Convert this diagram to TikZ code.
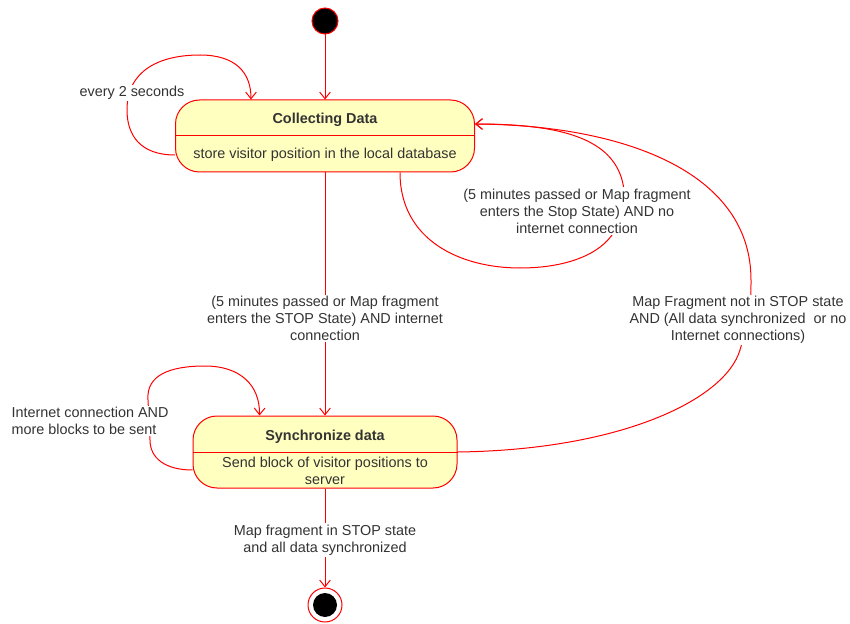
\documentclass[tikz,border=0pt]{standalone}
\usepackage{fontspec}
\setmainfont{Liberation Sans}
\usetikzlibrary{arrows.meta,calc}
\definecolor{edge}{HTML}{FF0000}
\definecolor{statefill}{HTML}{FFFFC0}
\definecolor{ink}{HTML}{333333}
\begin{document}
\begin{tikzpicture}[x=0.75pt,y=-0.75pt,
  font=\fontsize{10.8}{12.75}\selectfont, text=ink,
  statebox/.style={draw=edge, fill=statefill, rounded corners=18pt,
    minimum width=#1, minimum height=54pt, inner sep=0pt, line width=0.75pt},
  flow/.style={draw=edge, line width=0.75pt, -{Straight Barb[length=5pt,width=8pt]}},
  divider/.style={draw=edge, line width=0.75pt},
  guard/.style={fill=white, inner sep=1pt, align=center, text=ink},
  title/.style={font=\fontsize{10.8}{12.75}\selectfont\bfseries},
]
\useasboundingbox (0,0) rectangle (850,624);

% initial pseudo-state
\node[circle, draw=edge, fill=black, minimum size=19.5pt, inner sep=0pt, line width=0.75pt] (init) at (325,21) {};

% state: Collecting Data
\node[statebox=224.25pt] (cd) at (325,136) {};
\draw[divider] (cd.west) -- (cd.east);
\node[title] (cdt) at (325,119.5) {Collecting Data};
\node (cdb) at (325,155) {store visitor position in the local database};

% state: Synchronize data
\node[statebox=198pt] (sy) at (325,452) {};
\draw[divider] (sy.west) -- (sy.east);
\node[title] (syt) at (325,436.5) {Synchronize data};
\node[align=center, inner sep=0pt] (syb) at (325,471) {Send block of visitor positions to\\server};

% final state
\node[circle, draw=edge, fill=white, minimum size=25.5pt, inner sep=0pt, line width=0.75pt] (fin) at (325,605) {};
\node[circle, fill=black, minimum size=18pt, inner sep=0pt] (fincore) at (fin.center) {};

% attachment points on the state borders
\coordinate (cdL) at ($(cd.west)+(0,19)$);
\coordinate (cdTop) at ($(cd.north west)+(76,0)$);
\coordinate (cdB) at ($(cd.south)+(75,0)$);
\coordinate (cdR) at ($(cd.east)+(0,-12)$);
\coordinate (syL) at ($(sy.west)+(0,18)$);
\coordinate (syTop) at ($(sy.north west)+(67,0)$);

% transitions
\draw[flow] (init.south) -- (cd.north);

\draw[flow] (cdL) .. controls (140,155) and (127,135) .. (127,110)
  .. controls (127,70) and (160,55) .. (200,55)
  .. controls (235,55) and (251,72) .. (cdTop);

\draw[flow] (cdB) .. controls (400,240) and (460,268) .. (520,268)
  .. controls (565,268) and (600,255) .. (614,232)
  .. controls (628,210) and (628,180) .. (612,160)
  .. controls (590,132) and (540,124) .. (cdR);

\draw[flow] (sy.east) .. controls (620,450) and (725,400) .. (740,350)
  .. controls (751,312) and (751,300) .. (751,280)
  .. controls (751,170) and (620,125) .. (cdR);

\draw[flow] (syL) .. controls (165,470) and (150,458) .. (150,440)
  -- (148,400)
  .. controls (146,375) and (170,366) .. (205,366)
  .. controls (240,366) and (260,385) .. (syTop);

\draw[flow] (cd.south) -- node[guard, pos=0.6] (g1)
  {(5 minutes passed or Map fragment\\enters the STOP State) AND internet\\connection} (sy.north);

\draw[flow] (sy.south) -- node[guard, pos=0.52] (g2)
  {Map fragment in STOP state\\and all data synchronized} (fin.north);

% guard labels of the curved transitions
\node[guard] (g3) at (132,93) {every 2 seconds};
\node[guard] (g4) at (577,211) {(5 minutes passed or Map fragment\\enters the Stop State) AND no\\internet connection};
\node[guard] (g5) at (738,320) {Map Fragment not in STOP state\\AND (All data synchronized\ \ or no\\Internet connections)};
\node[guard, anchor=west, align=left] (g6) at (10,421) {Internet connection AND\\more blocks to be sent};
\end{tikzpicture}
\end{document}
